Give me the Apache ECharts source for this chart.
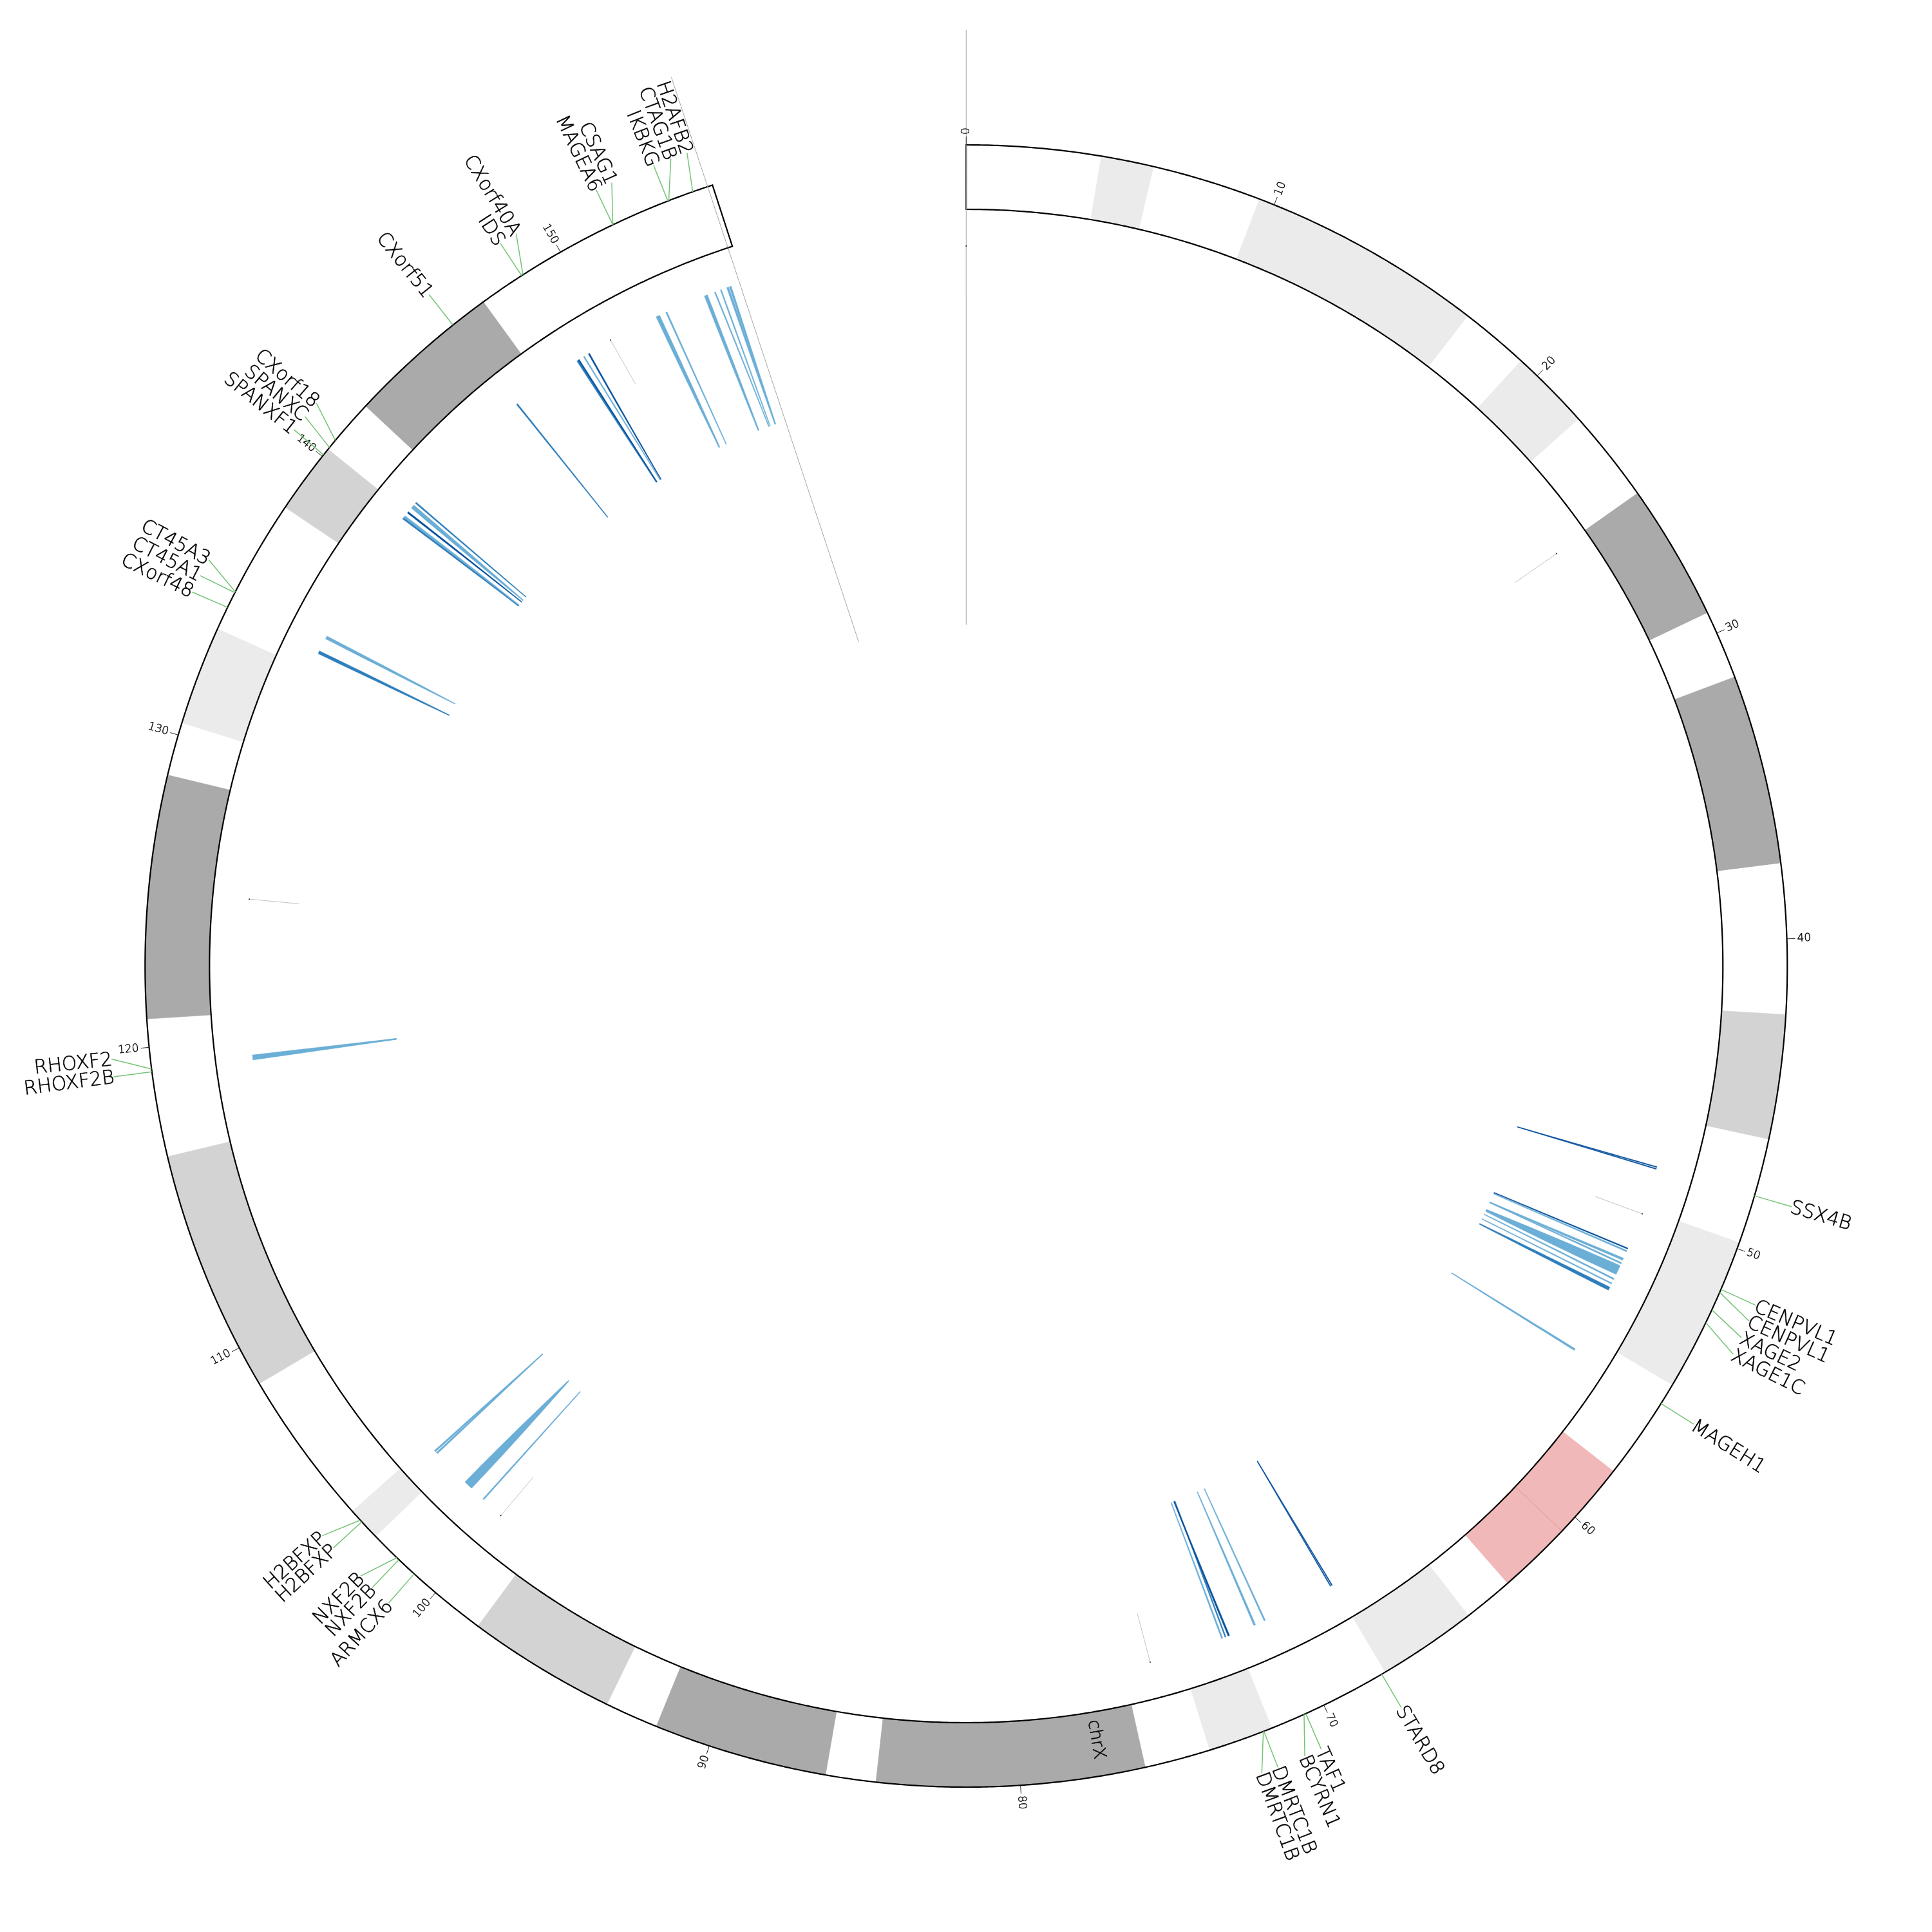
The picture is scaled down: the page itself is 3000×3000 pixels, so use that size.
<!DOCTYPE html>
<html><head><meta charset="utf-8">
<style>html,body{margin:0;padding:0;background:#fff}#c{width:3000px;height:3000px}</style>
<script src="https://cdn.jsdelivr.net/npm/echarts@6/dist/echarts.min.js"></script>
</head><body><div id="c"></div>
<script>
// chromosome length and cytobands (Mb)
const chromEnd = 155.27;
const axisEnd = 155.11;
const bandStart = [0,4.3,6,9.5,17.1,19.3,21.9,24.9,29.3,31.5,37.6,42.4,46.4,49.8,54.8,58.1,60.6,63,64.6,67.8,71.8,73.9,76,84.6,86.2,91.8,93.5,98.3,102.6,103.7,108.7,116.5,120.9,128.7,130.4,133.6,138,140.3,142.1,147.1];
const bandEnd = [4.3,6,9.5,17.1,19.3,21.9,24.9,29.3,31.5,37.6,42.4,46.4,49.8,54.8,58.1,60.6,63,64.6,67.8,71.8,73.9,76,84.6,86.2,91.8,93.5,98.3,102.6,103.7,108.7,116.5,120.9,128.7,130.4,133.6,138,140.3,142.1,147.1,155.27];
const bandStain = ['gneg','gpos50','gneg','gpos50','gneg','gpos50','gneg','gpos100','gneg','gpos100','gneg','gpos75','gneg','gpos25','gneg','acen','acen','gneg','gpos50','gneg','gpos50','gneg','gpos100','gneg','gpos100','gneg','gpos75','gneg','gpos50','gneg','gpos75','gneg','gpos100','gneg','gpos25','gneg','gpos75','gneg','gpos100','gneg'];
const seamMb = [60.6];
// tick labels
const tickMb = [0,10,20,30,40,50,60,70,80,90,100,110,120,130,140,150];
// genes: name, ring position, label position
const geneNames = ['SSX4B','CENPVL1','CENPVL1','XAGE2','XAGE1C','MAGEH1','STARD8','TAF1','BCYRN1','DMRTC1B','DMRTC1B','ARMCX6','NXF2B','NXF2B','H2BFXP','H2BFXP','RHOXF2','RHOXF2B','CXorf48','CT45A1','CT45A3','SPANXF1','SPANXC','CXorf18','CXorf51','IDS','CXorf40A','MAGEA6','CSAG1','IKBKG','CTAG1B','H2AFB2'];
const geneMb = [48.24,51.39,51.49,52.10,52.55,55.48,67.92,70.63,70.69,72.07,72.09,100.90,101.65,101.56,103.31,103.24,119.31,119.22,134.34,134.86,134.89,140.06,140.36,140.65,145.88,148.56,148.61,151.87,151.87,153.77,153.80,154.61];
const geneLabelMb = [48.24,51.42,51.94,52.49,53.05,55.48,67.92,70.65,71.19,72.07,72.59,100.88,102.06,101.56,103.74,103.24,119.76,119.22,134.29,134.84,135.39,140.10,140.62,141.15,145.89,148.55,149.11,151.87,152.39,153.76,154.32,154.84];
const chromLabel = ['chrX'];
const chromLabelMb = [77.4];
// ribbons: [outer position, outer width, inner position, inner width] in Mb
const lightRibbons = [
 [153.81,.12,153.82,.05],[154.16,.04,154.32,.03],[154.39,.04,154.38,.03],[154.65,.07,154.62,.03],[154.75,.07,154.64,.03],
 [151.92,.14,151.89,.05],[152.26,.05,152.23,.03],[148.87,.04,148.83,.03],
 [140.60,.14,140.53,.04],[140.11,.12,140.24,.04],[134.92,.11,134.91,.03],
 [119.31,.09,119.27,.04],[119.22,.09,119.27,.04],
 [103.33,.06,103.29,.03],[103.23,.06,103.29,.03],[101.61,.33,101.60,.04],[100.86,.05,100.88,.03],
 [70.99,.07,70.95,.03],[70.59,.05,70.60,.03],[72.26,.05,72.23,.03],
 [51.78,.08,51.89,.04],[51.46,.05,51.46,.03],[51.94,.05,51.90,.03],[52.21,.35,52.29,.1],[52.57,.05,52.49,.03],[52.75,.04,52.72,.03],
 [55.49,.07,55.53,.03]
];
const midRibbons = [
 [148.61,.09,148.63,.04],[145.90,.05,145.91,.03],[140.78,.05,140.73,.03],[140.05,.05,140.20,.03],
 [134.32,.11,134.33,.03],[72.13,.04,72.05,.03],[52.96,.12,52.97,.04]
];
const darkRibbons = [
 [148.65,.04,148.65,.03],[149.08,.05,148.87,.03],[140.33,.06,140.43,.03],[72.00,.06,72.09,.04],
 [67.84,.03,67.89,.02],[67.90,.03,67.90,.02],[51.36,.04,51.41,.03],[48.23,.03,48.25,.02],[48.30,.03,48.25,.02]
];
// short grey marks every 25 Mb
const greyMarkMb = [0,25,50,75,100,125,150];

const R = {ringIn:1175, ringOut:1275, tickOut:1288, tickLabel:1291, geneLine:1335, geneText:1334, ribIn:892, ribOut:1117, markIn:1040, markOut:1118, axisIn:530, axisOut:1454, chromText:1218};
const bandColor = {gneg:'#ffffff',gpos25:'#ebebeb',gpos50:'#ebebeb',gpos75:'#d3d3d3',gpos100:'#aaaaaa',acen:'#f0b8b8'};
const FONT = '"DejaVu Sans"';
const deg = Math.PI/180, degPerMb = 342/155.27;

function arcPts(api, r, a, b){
  const n = Math.max(2, Math.ceil(Math.abs(b-a)/0.1)), p = [];
  for(let i=0;i<=n;i++) p.push(api.coord([r, a+(b-a)*i/n]));
  return p;
}
function radialText(api, mb, r, text, size, strokeW, dy){
  const pt = api.coord([r, mb]), th = mb*degPerMb;
  const left = th > 180;
  return {type:'text', x:pt[0], y:pt[1], rotation:(left ? 270-th : 90-th)*deg, silent:true,
    style:{x:0,y:dy||0,text:text,fill:'#000',stroke:'#000',lineWidth:strokeW,align:left?'right':'left',verticalAlign:'middle',
      font:'200 '+size+'px '+FONT}};
}
function line(api, r1, m1, r2, m2, color, w){
  const a = api.coord([r1,m1]), b = api.coord([r2,m2]);
  return {type:'line', silent:true, shape:{x1:a[0],y1:a[1],x2:b[0],y2:b[1]}, style:{stroke:color,lineWidth:w,fill:null}};
}
function ribbonSeries(rows, color){
  return {type:'custom',coordinateSystem:'polar',data:rows,silent:true,clip:false,
    renderItem:function(p,api){
      const oc=api.value(0),ow=api.value(1),ic=api.value(2),iw=api.value(3);
      const N=16, up=[], down=[];
      for(let i=0;i<=N;i++){
        const t=i/N, c=oc+(ic-oc)*t, w=iw+(ow-iw)*(1-t*t), r=R.ribOut+(R.ribIn-R.ribOut)*t;
        up.push(api.coord([r,c-w/2])); down.unshift(api.coord([r,c+w/2]));
      }
      return {type:'polygon',silent:true,shape:{points:up.concat(down)},style:{fill:color,stroke:color,lineWidth:0.6}};
    }};
}
const bandRows = bandStart.map((s,i)=>[s,bandEnd[i],bandStain[i]]);
const geneRows = geneNames.map((n,i)=>[geneMb[i],geneLabelMb[i],n]);

const option = {
  animation:false,
  backgroundColor:'#ffffff',
  polar:{center:[1500.3,1500],radius:[0,1500]},
  angleAxis:{type:'value',min:0,max:360/degPerMb,startAngle:90,clockwise:true,show:false},
  radiusAxis:{type:'value',min:0,max:1500,show:false},
  series:[
    {type:'custom',coordinateSystem:'polar',data:bandRows,silent:true,clip:false,dimensions:['s','e',{name:'stain',type:'ordinal'}],
      renderItem:function(p,api){
        const s=api.value(0),e=api.value(1),st=bandRows[p.dataIndex][2];
        const pts=arcPts(api,R.ringOut,s,e).concat(arcPts(api,R.ringIn,e,s));
        return {type:'polygon',silent:true,shape:{points:pts},style:{fill:bandColor[st],stroke:bandColor[st],lineWidth:0.5}};
      }},
    {type:'custom',coordinateSystem:'polar',data:seamMb.map(m=>[m]),silent:true,clip:false,
      renderItem:function(p,api){return line(api,R.ringIn,api.value(0),R.ringOut,api.value(0),'#e09696',1);}},
    {type:'custom',coordinateSystem:'polar',data:[[0,chromEnd]],silent:true,clip:false,
      renderItem:function(p,api){
        const pts=arcPts(api,R.ringOut,api.value(0),api.value(1)).concat(arcPts(api,R.ringIn,api.value(1),api.value(0)));
        return {type:'polygon',silent:true,shape:{points:pts},style:{fill:null,stroke:'#000',lineWidth:2.2}};
      }},
    {type:'custom',coordinateSystem:'polar',data:[[0],[axisEnd]],silent:true,clip:false,
      renderItem:function(p,api){return line(api,R.axisIn,api.value(0),R.axisOut,api.value(0),'#a6a6a6',1);}},
    {type:'custom',coordinateSystem:'polar',data:greyMarkMb.map(m=>[m]),silent:true,clip:false,
      renderItem:function(p,api){
        const m=api.value(0);
        return {type:'group',children:[line(api,R.markIn,m,R.markOut,m,'#c4c4c4',1),line(api,R.markOut-1,m,R.markOut+1,m,'#222',1.5)]};
      }},
    ribbonSeries(lightRibbons,'#6baed6'),
    ribbonSeries(midRibbons,'#2e7ebc'),
    ribbonSeries(darkRibbons,'#08519c'),
    {type:'custom',coordinateSystem:'polar',data:tickMb.map(m=>[m]),silent:true,clip:false,
      renderItem:function(p,api){
        const m=api.value(0);
        return {type:'group',children:[line(api,R.ringOut,m,R.tickOut,m,'#222',1),radialText(api,m,R.tickLabel,String(m),17,0.45)]};
      }},
    {type:'custom',coordinateSystem:'polar',data:geneRows,silent:true,clip:false,dimensions:['a','b',{name:'n',type:'ordinal'}],
      renderItem:function(p,api){
        const a=api.value(0),b=api.value(1),n=geneRows[p.dataIndex][2];
        return {type:'group',children:[line(api,R.ringOut,a,R.geneLine,b,'#74c476',1.5),radialText(api,b,R.geneText,n,30,0.5,2)]};
      }},
    {type:'custom',coordinateSystem:'polar',data:chromLabelMb.map(m=>[m]),silent:true,clip:false,
      renderItem:function(p,api){
        const t=radialText(api,api.value(0),R.chromText,chromLabel[p.dataIndex],27,0.5);
        t.style.align='center';
        return t;
      }}
  ]
};
echarts.init(document.getElementById('c'),null,{renderer:'canvas',width:3000,height:3000}).setOption(option);
</script></body></html>
